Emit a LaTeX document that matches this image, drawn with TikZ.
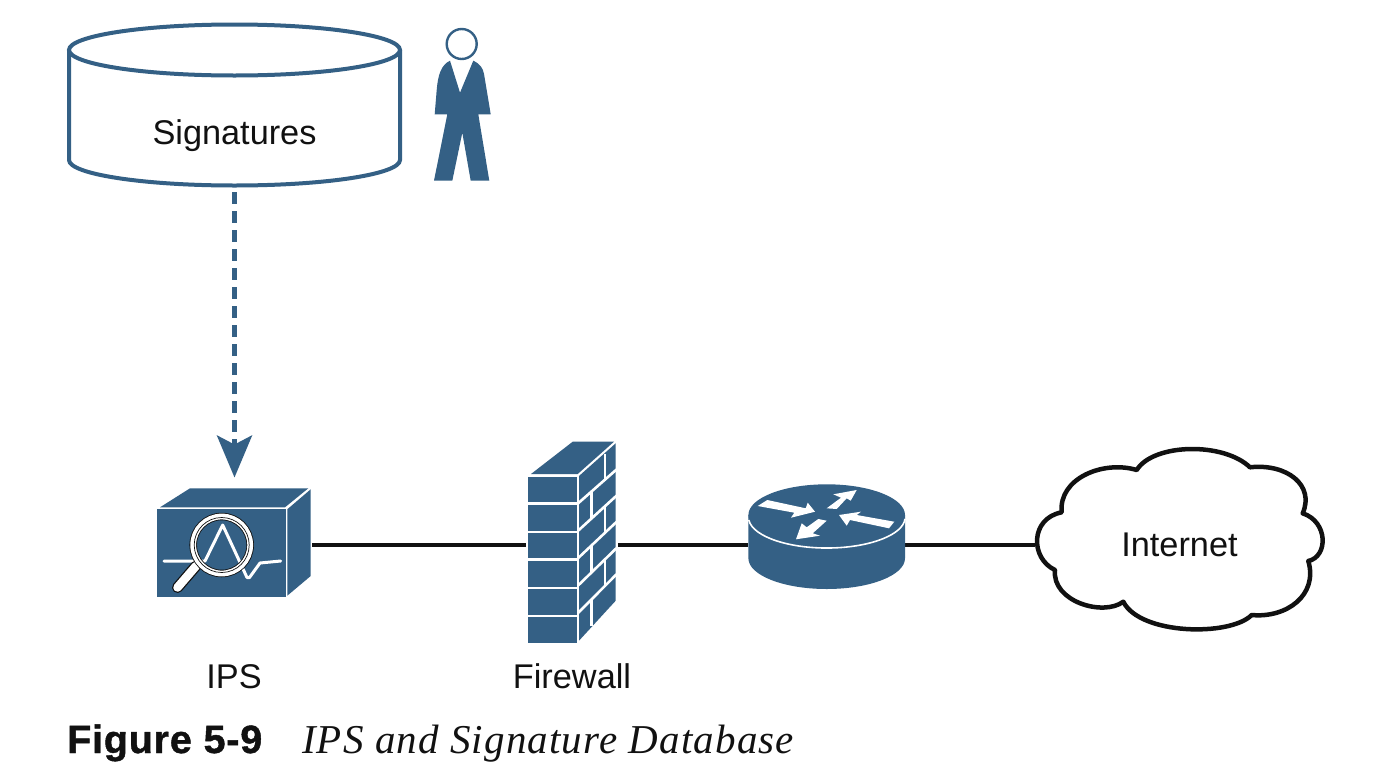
\documentclass[tikz,border=0pt]{standalone}
\usepackage{fontspec}
\setmainfont{Liberation Sans}
\newfontfamily\capserif[LetterSpace=2.8]{Liberation Serif}
\newfontfamily\capsans[LetterSpace=2,FakeBold=1.1]{Liberation Sans Bold}
\usetikzlibrary{arrows.meta}
\definecolor{ciscoblue}{HTML}{346085}
\definecolor{inkblack}{HTML}{111111}
\tikzset{
  iconbox/.style={inner sep=0pt,outer sep=0pt,minimum width=#1},
  label/.style={font=\fontsize{34.3}{38}\selectfont,text=inkblack,inner sep=0pt,anchor=base},
  link/.style={line width=4pt,draw=inkblack},
  outlineb/.style={line width=4pt,draw=ciscoblue},
  mortar/.style={draw=white,line width=2.6pt},
  pull/.style={line width=4.5pt,draw=ciscoblue,dash pattern=on 12pt off 7pt,
    -{Stealth[length=42pt,width=35pt,inset=9pt]}}
}
\begin{document}
\begin{tikzpicture}[x=1pt,y=-1pt]
\useasboundingbox (0,0) rectangle (1376,766);
\fill[white] (0,0) rectangle (1376,766);

% anchor nodes for the icons
\node[iconbox=331pt,minimum height=161pt] (db) at (234.5,105.5) {};
\node[iconbox=155pt,minimum height=109pt] (ips) at (234.5,545) {};
\node[iconbox=92pt,minimum height=203pt] (fw) at (572,545) {};
\node[iconbox=157pt,minimum height=120pt] (router) at (826.5,545) {};
\node[iconbox=290pt,minimum height=190pt] (cloud) at (1180,545) {};

% connectors
\draw[link] (ips.east) -- (fw.west);
\draw[link] (fw.east) -- (router.west);
\draw[link] (router.east) -- (cloud.west);
\draw[pull,shorten <=6pt,shorten >=13pt] (db.south) -- (ips.north);

% database
\draw[outlineb,fill=white] (69,50) -- (69,160) arc[start angle=180,end angle=0,x radius=165.5,y radius=25.5] -- (400,50);
\draw[outlineb,fill=white] (234.5,50) ellipse[x radius=165.5,y radius=25.5];
\node[label] (sig) at (234.5,144) {Signatures};

% person
\draw[ciscoblue,line width=2.4pt,fill=white] (461.7,44) circle[radius=15];
\fill[ciscoblue] (450,60.7) -- (460,92.7) -- (473.3,60.7)
  .. controls (480,64) and (483,68) .. (484,74)
  -- (486.7,90) -- (490.7,114.3) -- (478.3,114.3) -- (489.3,180.7) -- (470.7,180.7)
  -- (462.3,132.7) -- (452.3,180.7) -- (434,180.7) -- (447.3,114.3) -- (434.7,114.3)
  -- (436.7,90) .. controls (438,75) and (441,65) .. cycle;

% IPS
\fill[ciscoblue] (160,507.3) -- (190,488.3) -- (308.3,488.3) -- (285,507.3) -- cycle;
\fill[ciscoblue] (287.3,509.3) -- (310.7,489.3) -- (310.7,576) -- (287.3,595.7) -- cycle;
\fill[ciscoblue] (157.3,508.5) rectangle (286,596.7);
\draw[white,line width=3pt,line cap=round,line join=round]
  (164,561) -- (205,561) -- (222.7,525) -- (247,577.5) -- (249.5,577.5) -- (260,563) -- (280.7,561);
\draw[inkblack,line width=11pt,line cap=round] (196,566) -- (177.5,587.5);
\draw[white,line width=8.5pt,line cap=round] (196,566) -- (177.5,587.5);
\draw[inkblack,line width=7.5pt] (221.7,545) circle[radius=28.5];
\draw[white,line width=5.8pt] (221.7,545) circle[radius=28.5];
\draw[inkblack,line width=.7pt] (221.7,545) circle[radius=27.5];

% firewall
\fill[ciscoblue] (531,474) -- (572.7,441.7) -- (614,441.7) -- (577.7,474) -- cycle;
\foreach \a/\b in {476.7/502.3,505/530.7,533.3/558.3,561/586.7,589.3/615,617.3/643.3}
  \fill[ciscoblue] (528.3,\a) rectangle (576.7,\b);
\fill[ciscoblue] (579,476) -- (615.7,443.3) -- (615.7,600.7) -- (579,640.7) -- cycle;
\foreach \i in {1,...,5}
  \draw[mortar] (578,{476+27.4*\i}) -- (616.5,{443.3+26.2*\i});
\foreach \i in {0,2,4}
  \draw[mortar] (605,{453.5+26.6*\i}) -- (605,{453.5+26.6*\i+27});
\foreach \i in {1,3,5}
  \draw[mortar] (591.7,{464.7+26.9*\i}) -- (591.7,{464.7+26.9*\i+27});

% router
\fill[ciscoblue] (748.4,515) -- (748.4,558.3) arc[start angle=180,end angle=0,x radius=78.3,y radius=30.7] -- (905,515) -- cycle;
\fill[ciscoblue] (826.7,515) ellipse[x radius=78.3,y radius=30.7];
\draw[white,line width=1.6pt] (748.8,520) arc[start angle=175,end angle=3,x radius=78.3,y radius=30.7];
\fill[white] (767.3,500) -- (805.7,508.3) -- (807.7,502.7) -- (815,511.7) -- (791,517.7) -- (794.3,512.7) -- (757.7,506) -- cycle;
\fill[white] (826.7,508.3) -- (841,497.7) -- (833.3,494.3) -- (856.7,490) -- (850.7,500.7) -- (846.7,498.3) -- (836.7,509) -- cycle;
\fill[white] (818.3,519) -- (826.7,520.7) -- (812.7,533.3) -- (820,535.7) -- (796,539.3) -- (801.7,523.3) -- (806.7,527.3) -- cycle;
\fill[white] (894.3,521.7) -- (889,528.3) -- (850,520) -- (846.7,525.7) -- (839,515) -- (861,511.7) -- (856.7,515) -- cycle;

% cloud
\draw[line width=4.5pt,draw=inkblack,fill=white,line join=round]
  (1061.7,512.3)
  .. controls (1058.3,478.3) and (1103.3,460) .. (1136.7,470)
  .. controls (1153.3,443.3) and (1223.3,441.7) .. (1250,467.3)
  .. controls (1286.7,463.3) and (1315,485) .. (1302.7,513.3)
  .. controls (1328.3,521.7) and (1328.3,556.7) .. (1308.3,561)
  .. controls (1318.3,595) and (1286.7,618.3) .. (1251.7,615)
  .. controls (1230,636.7) and (1140,635) .. (1123.3,601.7)
  .. controls (1103.3,616.7) and (1051.7,601.7) .. (1055,570)
  .. controls (1030,558.3) and (1030,518.3) .. cycle;

% labels
\node[label] (inet) at (1179.5,556) {Internet};
\node[label] (ipsl) at (234,688) {IPS};
\node[label] (fwl) at (572,688) {Firewall};
\node[inner sep=0pt,anchor=base west,text=inkblack,font=\fontsize{39.5}{40}\selectfont\capsans] (figno) at (67,753) {Figure 5-9};
\node[inner sep=0pt,anchor=base west,text=inkblack,font=\fontsize{41}{42}\selectfont\capserif\itshape] (figcap) at (302,753) {IPS and Signature Database};
\end{tikzpicture}
\end{document}
